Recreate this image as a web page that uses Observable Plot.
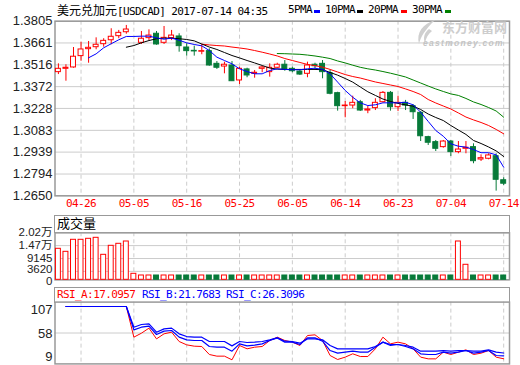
<!DOCTYPE html>
<html><head><meta charset="utf-8">
<script src="https://cdn.jsdelivr.net/npm/d3@7"></script>
<script src="https://cdn.jsdelivr.net/npm/@observablehq/plot@0.6"></script>
<style>
body{margin:0;background:#fff}
#root{position:relative;width:520px;height:365px;background:#fff;overflow:hidden;font-family:"DejaVu Sans Mono",monospace;color:#000}
.t{position:absolute;white-space:nowrap;font-size:11px;line-height:12px;letter-spacing:-0.6px}
.cjk{font-family:"Noto Sans CJK SC";letter-spacing:0}
.box{position:absolute;border:1.5px solid #999;border-bottom:none;box-sizing:border-box}
.dash{position:absolute;width:6px;height:3px}
.pl{position:absolute;left:0}
svg g[font-family*="Mono"] text{letter-spacing:-0.6px}
</style></head>
<body>
<div id="root">
  <div id="main" class="pl" style="top:0"></div>
  <div id="vol" class="pl" style="top:213px"></div>
  <div id="rsi" class="pl" style="top:285px"></div>
</div>
<script>
// ---------------- data ----------------
const title = "[USDCAD] 2017-07-14 04:35";
const titleCN = "美元兑加元";
const xTickIdx = [3, 10, 17, 24, 31, 38, 45, 52, 59];
const xLabels = ["04-26","05-05","05-16","05-25","06-05","06-14","06-23","07-04","07-14"];
const yTicks = [1.3805, 1.3661, 1.3516, 1.3372, 1.3228, 1.3083, 1.2939, 1.2794, 1.2650];

const opens = [1.3468,1.3490,1.3499,1.3574,1.3620,1.3633,1.3653,1.3679,1.3706,1.3732,
1.3704,1.3662,1.3693,1.3722,1.3662,1.3693,1.3704,1.3631,1.3609,1.3603,
1.3607,1.3523,1.3505,1.3512,1.3413,1.3486,1.3457,1.3490,1.3468,1.3497,
1.3517,1.3490,1.3472,1.3457,1.3517,1.3523,1.3461,1.3329,1.3243,1.3247,
1.3269,1.3214,1.3230,1.3269,1.3331,1.3236,1.3265,1.3243,1.3199,1.3038,
1.3005,1.2972,1.3009,1.2939,1.2961,1.2972,1.2890,1.2895,1.2912,1.2753];
const highs = [1.3523,1.3517,1.3631,1.3666,1.3671,1.3695,1.3689,1.3755,1.3744,1.3777,
1.3704,1.3737,1.3748,1.3737,1.3770,1.3744,1.3722,1.3656,1.3640,1.3649,
1.3622,1.3538,1.3534,1.3538,1.3501,1.3494,1.3479,1.3505,1.3523,1.3527,
1.3545,1.3501,1.3484,1.3534,1.3527,1.3545,1.3479,1.3335,1.3274,1.3309,
1.3281,1.3243,1.3292,1.3340,1.3340,1.3309,1.3281,1.3252,1.3208,1.3044,
1.3016,1.3016,1.3016,1.3009,1.3009,1.2994,1.2921,1.2928,1.2928,1.2769];
const lows = [1.3452,1.3408,1.3494,1.3540,1.3527,1.3616,1.3633,1.3649,1.3689,1.3719,
1.3704,1.3651,1.3675,1.3646,1.3651,1.3677,1.3600,1.3574,1.3574,1.3583,
1.3507,1.3486,1.3457,1.3406,1.3386,1.3431,1.3428,1.3464,1.3435,1.3490,
1.3474,1.3464,1.3446,1.3431,1.3486,1.3424,1.3318,1.3210,1.3166,1.3226,
1.3208,1.3193,1.3214,1.3265,1.3210,1.3208,1.3214,1.3155,1.3009,1.2983,
1.2943,1.2965,1.2910,1.2928,1.2928,1.2862,1.2877,1.2888,1.2681,1.2718];
const closes = [1.3490,1.3497,1.3570,1.3618,1.3629,1.3649,1.3675,1.3702,1.3728,1.3750,
1.3704,1.3689,1.3710,1.3651,1.3695,1.3710,1.3640,1.3607,1.3605,1.3607,
1.3512,1.3497,1.3517,1.3408,1.3490,1.3446,1.3464,1.3499,1.3497,1.3517,
1.3486,1.3474,1.3452,1.3512,1.3507,1.3468,1.3325,1.3243,1.3247,1.3265,
1.3214,1.3221,1.3265,1.3331,1.3236,1.3265,1.3247,1.3203,1.3044,1.3001,
1.2961,1.3009,1.2939,1.2956,1.2968,1.2879,1.2899,1.2917,1.2756,1.2730];

const ma5 = [null,null,null,null,1.3563,1.3589,1.3629,1.3656,1.3682,1.3704,
1.3704,1.3706,1.3706,1.3695,1.3686,1.3693,1.3679,1.3662,1.3651,1.3642,
1.3611,1.3567,1.3545,1.3523,1.3490,1.3472,1.3457,1.3457,1.3479,1.3490,
1.3486,1.3484,1.3484,1.3490,1.3494,1.3486,1.3457,1.3402,1.3347,1.3302,
1.3265,1.3247,1.3252,1.3265,1.3265,1.3265,1.3269,1.3252,1.3203,1.3142,
1.3082,1.3044,1.2994,1.2978,1.2972,1.2956,1.2935,1.2935,1.2921,1.2839];
const ma10 = [null,null,null,null,null,null,null,null,null,1.3633,
1.3644,1.3662,1.3677,1.3689,1.3693,1.3693,1.3689,1.3684,1.3675,1.3654,
1.3634,1.3618,1.3598,1.3578,1.3562,1.3545,1.3529,1.3512,1.3495,1.3488,
1.3486,1.3486,1.3486,1.3486,1.3486,1.3484,1.3466,1.3448,1.3426,1.3402,
1.3370,1.3338,1.3314,1.3290,1.3274,1.3261,1.3251,1.3243,1.3221,1.3191,
1.3168,1.3148,1.3115,1.3085,1.3056,1.3016,1.2996,1.2973,1.2947,1.2910];
const ma20 = [null,null,null,null,null,null,null,null,null,null,
null,null,null,null,null,null,null,null,null,1.3653,
1.3648,1.3644,1.3641,1.3634,1.3628,1.3621,1.3611,1.3600,1.3588,1.3575,
1.3558,1.3545,1.3532,1.3519,1.3511,1.3501,1.3486,1.3469,1.3452,1.3439,
1.3429,1.3416,1.3403,1.3393,1.3383,1.3373,1.3357,1.3340,1.3320,1.3287,
1.3264,1.3244,1.3224,1.3198,1.3171,1.3152,1.3135,1.3115,1.3089,1.3060];
const ma30 = [null,null,null,null,null,null,null,null,null,null,
null,null,null,null,null,null,null,null,null,null,
null,null,null,null,null,null,null,null,null,1.3591,
1.3590,1.3588,1.3586,1.3581,1.3575,1.3567,1.3558,1.3542,1.3529,1.3514,
1.3500,1.3490,1.3482,1.3472,1.3461,1.3449,1.3436,1.3416,1.3396,1.3376,
1.3357,1.3340,1.3324,1.3314,1.3294,1.3271,1.3254,1.3234,1.3211,1.3170];

const volumes = [13320,12030,17190,17190,17620,18050,10740,14610,15470,16460,
2580,1850,1850,1850,1850,1850,1850,1850,1850,1850,
1850,1850,1850,1850,1850,1850,1850,1850,1850,1850,
1850,1850,1850,1850,1850,1850,1850,1850,1850,1850,
1850,1850,1850,1850,1850,1850,1850,1850,1850,1850,
1850,1850,1850,16460,6450,1850,1850,1850,1850,1850];
const volTicks = [0, 3620, 9145, 14700, 20200];
const volLabels = ["0", "3620", "9145", "1.47万", "2.02万"];

const rsiA = [null,100,100,100,100,100,100,100,100,100,
51.4,57.7,65.7,48.7,56.7,59.3,44.5,39.2,37.1,36.6,
23.9,21.3,21.3,15.5,38.2,32.9,35.5,36.6,46.1,51.4,
46.1,43.5,38.2,54.0,55.1,46.1,22.3,16.0,19.7,25.0,
20.7,20.7,32.9,51.4,40.8,43.5,40.8,32.9,19.7,17.0,
17.0,27.6,23.9,27.6,31.3,23.9,26.0,30.2,19.7,17.1];
const rsiB = [null,100,100,100,100,100,100,100,100,100,
63.0,67.2,68.8,55.6,60.9,62.0,51.4,47.2,46.1,46.1,
36.6,35.5,35.5,29.2,40.8,37.6,38.7,40.8,46.1,50.3,
43.5,43.5,39.8,50.3,50.3,45.0,30.2,26.0,27.6,29.2,
27.6,27.6,35.5,43.5,38.2,39.8,36.6,32.9,25.0,23.9,
23.9,27.6,26.0,27.6,30.2,26.0,27.6,30.2,22.3,21.8];
const rsiC = [null,100,100,100,100,100,100,100,100,100,
67.2,71.5,72.5,59.3,64.6,65.7,56.7,52.4,51.4,51.4,
44.5,44.5,44.5,37.6,44.5,42.9,43.5,44.5,47.2,50.3,
45.0,44.5,41.9,48.7,48.7,47.2,38.2,32.9,32.9,32.9,
32.9,32.9,36.6,43.5,39.8,39.8,38.2,35.5,29.2,29.2,
29.2,30.2,29.2,30.2,30.2,29.2,29.2,31.3,27.6,26.3];
const rsiTicks = [107, 58, 9];
const rsiNames = ["RSI_A:17.0957", "RSI_B:21.7683", "RSI_C:26.3096"];
const maNames = ["5PMA", "10PMA", "20PMA", "30PMA"];

// ---------------- styles ----------------
const RED = "#ff0000", GREEN = "#077a39", BLUE = "#0000ff";
const GRID = "#cccccc", FRAME = "#999999";
const numFont = '"Liberation Sans","Noto Sans CJK SC",sans-serif';
const monoFont = '"DejaVu Sans Mono",monospace';

const candles = opens.map((o, i) => ({
  i, o, h: highs[i], l: lows[i], c: closes[i],
  lo: Math.min(o, closes[i]), hi: Math.max(o, closes[i]),
  up: closes[i] >= o, v: volumes[i]
}));
const colOf = d => d.up ? RED : GREEN;

const xScale = {type: "linear", domain: [-0.45, 59.77], axis: null};
const common = {width: 520, marginLeft: 54.5, marginRight: 11, x: xScale,
  color: {type: "identity"}, style: {background: "transparent", overflow: "visible"}};
const lab = {frameAnchor: "left", textAnchor: "end", dx: -2.5, fill: "#222", fontFamily: numFont};

const main = Plot.plot({
  ...common, height: 212, marginTop: 20.7, marginBottom: 16.7,
  y: {domain: [yTicks[yTicks.length - 1], yTicks[0]], axis: null},
  marks: [
    Plot.gridY(yTicks, {stroke: GRID, strokeOpacity: 1}),
    Plot.gridX(xTickIdx, {stroke: GRID, strokeOpacity: 1, strokeDasharray: "4,3"}),
    Plot.frame({stroke: FRAME, strokeWidth: 1.5}),
    Plot.ruleX(candles, {x: "i", y1: "l", y2: "h", stroke: colOf}),
    Plot.rect(candles, {x1: d => d.i - 0.5, x2: d => d.i + 0.5, y1: "lo", y2: "hi",
      insetLeft: 1.3, insetRight: 1.3, fill: d => d.up ? "#ffffff" : GREEN, stroke: colOf}),
    Plot.lineY(ma30, {x: (d, i) => i, y: d => d, stroke: "#008000", strokeWidth: 1}),
    Plot.lineY(ma20, {x: (d, i) => i, y: d => d, stroke: RED, strokeWidth: 1}),
    Plot.lineY(ma10, {x: (d, i) => i, y: d => d, stroke: "#000000", strokeWidth: 1}),
    Plot.lineY(ma5, {x: (d, i) => i, y: d => d, stroke: BLUE, strokeWidth: 1}),
    Plot.text(yTicks, {...lab, y: d => d, text: d => d.toFixed(4), fontSize: 13}),
    Plot.text(xTickIdx, {x: d => d, text: (d, k) => xLabels[k], frameAnchor: "bottom", dy: 11,
      fill: RED, fontSize: 11, fontFamily: monoFont})
  ]
});
document.getElementById("main").append(main);

const vol = Plot.plot({
  ...common, height: 70, marginTop: 19.3, marginBottom: 3.7,
  y: {domain: [volTicks[0], volTicks[volTicks.length - 1]], axis: null},
  marks: [
    Plot.gridY(volTicks, {stroke: GRID, strokeOpacity: 1}),
    Plot.gridX(xTickIdx, {stroke: GRID, strokeOpacity: 1, strokeDasharray: "4,3"}),
    Plot.frame({stroke: FRAME, strokeWidth: 1.5}),
    Plot.rect(candles, {x1: d => d.i - 0.5, x2: d => d.i + 0.5, y1: 0, y2: "v",
      insetLeft: 1.3, insetRight: 1.3, fill: d => d.up ? "#ffffff" : GREEN, stroke: colOf}),
    Plot.text(volTicks.slice(2), {...lab, y: d => d, text: (d, k) => volLabels[k + 2], fontSize: 11.5, dy: -0.5}),
    Plot.text([volTicks[1]], {...lab, y: d => d, text: () => volLabels[1], fontSize: 11.5, dy: -1.8}),
    Plot.text([volTicks[0]], {...lab, y: d => d, text: () => volLabels[0], fontSize: 11.5, dy: 1.5})
  ]
});
document.getElementById("vol").append(vol);

const rsi = Plot.plot({
  ...common, height: 80, marginTop: 16.6, marginBottom: 1.6,
  y: {domain: [rsiTicks[2], rsiTicks[0]], axis: null},
  marks: [
    Plot.gridY([rsiTicks[1]], {stroke: GRID, strokeOpacity: 1}),
    Plot.gridX(xTickIdx, {stroke: GRID, strokeOpacity: 1, strokeDasharray: "4,3"}),
    Plot.frame({stroke: FRAME, strokeWidth: 1.5}),
    Plot.lineY(rsiA, {x: (d, i) => i, y: d => d, stroke: RED, strokeWidth: 1}),
    Plot.lineY(rsiB, {x: (d, i) => i, y: d => d, stroke: BLUE, strokeWidth: 1.2}),
    Plot.lineY(rsiC, {x: (d, i) => i, y: d => d, stroke: BLUE, strokeWidth: 1.2}),
    Plot.text([rsiTicks[0]], {...lab, y: d => d, text: d => String(d), dy: 7.5, fontSize: 13}),
    Plot.text([rsiTicks[1]], {...lab, y: d => d, text: d => String(d), dy: 0.5, fontSize: 13}),
    Plot.text([rsiTicks[2]], {...lab, y: d => d, text: d => String(d), dy: -7.5, fontSize: 13})
  ]
});
document.getElementById("rsi").append(rsi);

// ---------------- html texts / boxes ----------------
const root = document.getElementById("root");
function add(html, css, cls = "t") {
  const el = document.createElement("div");
  el.className = cls; el.innerHTML = html; el.style.cssText += css; root.append(el); return el;
}
add(`<span class="cjk" style="font-size:12px">${titleCN}</span>${title}`, "left:57px;top:4px;");
const legX = [288, 325, 368, 412], dashX = [314, 357, 401, 445];
const legCol = [BLUE, "#000000", RED, "#008000"];
maNames.forEach((n, k) => {
  add(n, `left:${legX[k]}px;top:4px;`);
  add("", `left:${dashX[k]}px;top:10px;background:${legCol[k]};`, "dash");
});
// volume header box
add("", "left:54px;top:214.5px;width:456px;height:18px;", "box");
add("成交量", "left:57px;top:215px;font-size:13px;line-height:16px;", "t cjk");
// rsi header box
add("", "left:54px;top:286.5px;width:456px;height:16px;", "box");
const rsiX = [57, 142, 226], rsiCol = [RED, BLUE, BLUE];
rsiNames.forEach((n, k) => add(n, `left:${rsiX[k]}px;top:288.5px;color:${rsiCol[k]};`));
// watermark
add(`<svg width="24" height="26"><path d="M21 1 C9 5 2 13 5 25 C7 17 11 11 21 1Z M15 10 C10 14 9 19 11 24 C12 19 14 15 18 12Z" fill="#cfcfcf"/></svg>`,
  "left:414px;top:19px;", "pl");
add("东方财富网", "left:442px;top:20px;font-size:13px;line-height:13px;font-weight:bold;color:#cdcdcd;", "t cjk");
add("eastmoney.com", "left:423px;top:38.5px;font:italic bold 8.5px 'Liberation Sans';letter-spacing:1.3px;color:#c4c4c4;line-height:8.5px;");
</script>
</body></html>
